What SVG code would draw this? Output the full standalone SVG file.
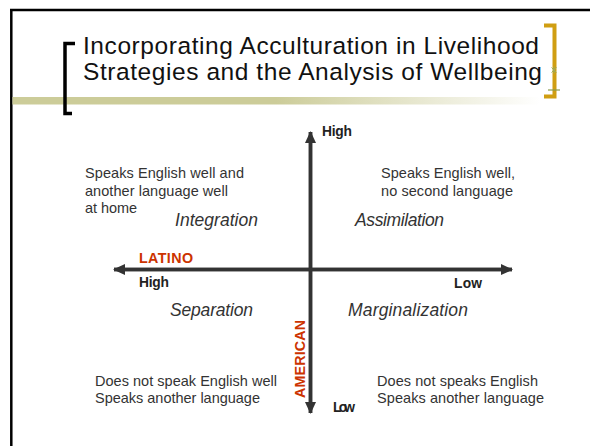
<svg xmlns="http://www.w3.org/2000/svg" width="590" height="446" viewBox="0 0 590 446">
<style>
.title{font-family:"Liberation Sans",Arial,sans-serif;font-size:24.5px;fill:#111}
.body{font-family:"Liberation Sans",Arial,sans-serif;font-size:14.5px;fill:#333}
.quad{font-family:"Liberation Sans",Arial,sans-serif;font-size:17.5px;font-style:italic;fill:#333}
.lbl{font-family:"Liberation Sans",Arial,sans-serif;font-size:13.8px;font-weight:bold;fill:#222}
.red{font-family:"Liberation Sans",Arial,sans-serif;font-size:14.3px;font-weight:bold;fill:#cc3300}
.axis{stroke:#333;stroke-width:3.5;fill:none}
</style>
<defs>
<linearGradient id="band" x1="12" y1="0" x2="540" y2="0" gradientUnits="userSpaceOnUse">
<stop offset="0" stop-color="#cccc99"/>
<stop offset="0.5" stop-color="#cccc99"/>
<stop offset="1" stop-color="#ffffff"/>
</linearGradient>
<marker id="ah" viewBox="0 0 12 11" refX="11" refY="5.5" markerWidth="12" markerHeight="11" markerUnits="userSpaceOnUse" orient="auto">
<path d="M0,0 L12,5.5 L0,11 Z" fill="#333"/>
</marker>
</defs>
<rect width="590" height="446" fill="#fff"/>
<g id="frame">
<line x1="10" y1="10" x2="590" y2="10" stroke="#000" stroke-width="2.5"/>
<line x1="11.3" y1="9" x2="11.3" y2="446" stroke="#000" stroke-width="2.5"/>
<rect x="12.5" y="97" width="530" height="7.5" fill="url(#band)"/>
<path d="M75,43.5 H65 V113.5 H72" stroke="#000" stroke-width="3.5" fill="none"/>
<path d="M544,25.5 H554.5 V96.5 H544" stroke="#d09e12" stroke-width="4" fill="none"/>
<line x1="548" y1="90" x2="560" y2="90" stroke="#8a9a48" stroke-width="1.2"/>
<path d="M551.5,67.5 L556.5,72.5 M556.5,67.5 L551.5,72.5 M554,66.5 V73.5" stroke="#9aab5a" stroke-width="1"/>
</g>
<g id="title">
<text class="title" x="83" y="54" textLength="456" lengthAdjust="spacing">Incorporating Acculturation in Livelihood</text>
<text class="title" x="83" y="80" textLength="459" lengthAdjust="spacing">Strategies and the Analysis of Wellbeing</text>
</g>
<g id="connectors">
<line class="axis" x1="310.5" y1="413" x2="310.5" y2="132" marker-end="url(#ah)"/>
<line class="axis" x1="310.5" y1="132" x2="310.5" y2="413" marker-end="url(#ah)"/>
<line class="axis" x1="512" y1="269.5" x2="114" y2="269.5" marker-end="url(#ah)"/>
<line class="axis" x1="114" y1="269.5" x2="512" y2="269.5" marker-end="url(#ah)"/>
</g>
<g id="axis-labels">
<text class="lbl" x="322" y="136" textLength="30">High</text>
<text class="lbl" x="333" y="412" textLength="22">Low</text>
<text class="lbl" x="139" y="287" textLength="30">High</text>
<text class="lbl" x="454" y="288" textLength="28">Low</text>
<text class="red" x="139" y="263" textLength="54">LATINO</text>
<text class="red" transform="translate(305,398) rotate(-90)" x="0" y="0" textLength="78">AMERICAN</text>
</g>
<g id="integration">
<text class="body" x="85" y="178" textLength="159">Speaks English well and</text>
<text class="body" x="85" y="195.5" textLength="143">another language well</text>
<text class="body" x="85" y="213" textLength="52">at home</text>
<text class="quad" x="175" y="226" textLength="83">Integration</text>
</g>
<g id="assimilation">
<text class="body" x="381" y="178" textLength="134">Speaks English well,</text>
<text class="body" x="381" y="196" textLength="132">no second language</text>
<text class="quad" x="355" y="226" textLength="89">Assimilation</text>
</g>
<g id="separation">
<text class="quad" x="170" y="316" textLength="83">Separation</text>
<text class="body" x="95" y="386" textLength="182">Does not speak English well</text>
<text class="body" x="95" y="403" textLength="165">Speaks another language</text>
</g>
<g id="marginalization">
<text class="quad" x="348" y="316" textLength="120">Marginalization</text>
<text class="body" x="377" y="386" textLength="161">Does not speaks English</text>
<text class="body" x="377" y="403" textLength="167">Speaks another language</text>
</g>
</svg>
